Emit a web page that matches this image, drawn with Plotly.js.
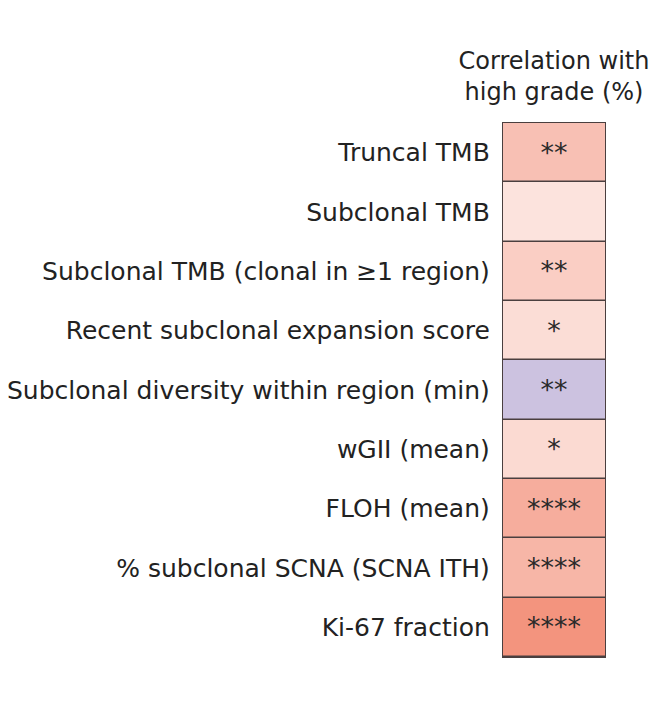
<!DOCTYPE html>
<html>
<head>
<meta charset="utf-8">
<script src="https://cdn.plot.ly/plotly-3.0.1.min.js"></script>
<style>html,body{margin:0;padding:0;background:#fff;}#chart{width:663px;height:728px;}</style>
</head>
<body>
<div id="chart"></div>
<script>
// Data
const features = [
  "Truncal TMB",
  "Subclonal TMB",
  "Subclonal TMB (clonal in ≥1 region)",
  "Recent subclonal expansion score",
  "Subclonal diversity within region (min)",
  "wGII (mean)",
  "FLOH (mean)",
  "% subclonal SCNA (SCNA ITH)",
  "Ki-67 fraction"
];
const correlationPct = [42, 19, 33, 23, -39, 25, 55, 49, 72];
const significance = ["**", "", "**", "*", "**", "*", "****", "****", "****"];
const columnLabel = ["Correlation with high grade (%)"];

const z = correlationPct.map(v => [v]);
const text = significance.map(s => [s]);
const FONT = "DejaVu Sans, sans-serif";

const trace = {
  type: "heatmap",
  x: columnLabel,
  y: features,
  z: z,
  text: text,
  texttemplate: "%{text}",
  textfont: {family: FONT, size: 27, color: "#2a2a2a"},
  zmin: -100,
  zmax: 100,
  colorscale: [[0, "#7b62b0"], [0.5, "#ffffff"], [1, "#ef6a4c"]],
  showscale: false,
  ygap: 1.5,
  hoverinfo: "skip"
};

const layout = {
  width: 663,
  height: 728,
  margin: {l: 503, r: 58, t: 123, b: 71},
  paper_bgcolor: "#ffffff",
  plot_bgcolor: "#4a3f3f",
  font: {family: FONT, size: 25, color: "#222222"},
  title: {
    text: "Correlation with<br>high grade (%)",
    x: 0.5, xref: "paper", xanchor: "center",
    y: 0.905, yref: "container", yanchor: "middle",
    font: {family: FONT, size: 24, color: "#222222"}
  },
  xaxis: {
    showticklabels: false, ticks: "", showgrid: false, zeroline: false,
    showline: true, mirror: true, linecolor: "#4a3f3f", linewidth: 1.2
  },
  yaxis: {
    autorange: "reversed", ticks: "", showgrid: false, zeroline: false,
    showline: true, mirror: true, linecolor: "#4a3f3f", linewidth: 1.2,
    ticklabelstandoff: 7,
    tickfont: {family: FONT, size: 25, color: "#222222"}
  }
};

Plotly.newPlot("chart", [trace], layout, {displayModeBar: false, staticPlot: true});
</script>
</body>
</html>
